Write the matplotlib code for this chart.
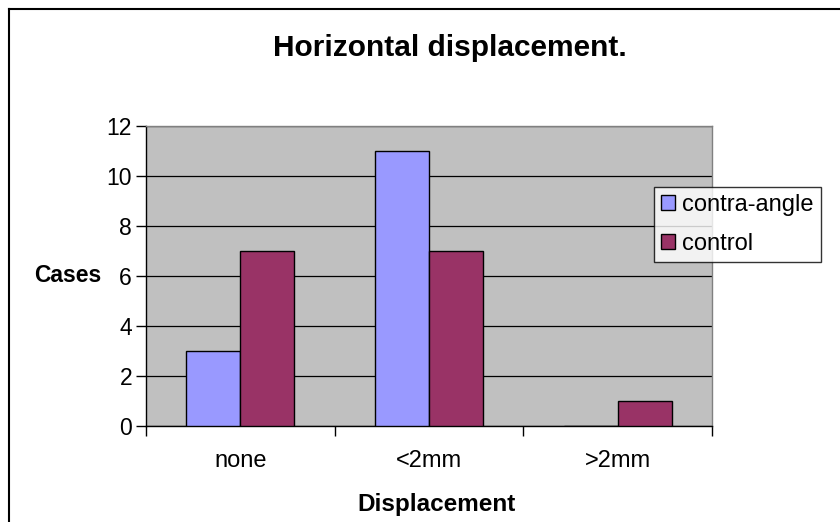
import matplotlib
matplotlib.use("Agg")
import matplotlib.pyplot as plt
import numpy as np
from matplotlib.lines import Line2D
from matplotlib.ticker import FixedLocator, NullFormatter

categories = ["none", "<2mm", ">2mm"]
contra_angle = [3, 11, 0]
control = [7, 7, 1]
series_names = ["contra-angle", "control"]
y_ticks = [0, 2, 4, 6, 8, 10, 12]

plt.rcParams["font.family"] = ["Liberation Sans", "DejaVu Sans"]

fig = plt.figure(figsize=(8.4, 5.22), dpi=100)
ax = fig.add_axes([146 / 840, 1 - 426 / 522, (712 - 146) / 840, 300 / 522])

ax.set_facecolor("#c0c0c0")
for side in ["top", "right"]:
    ax.spines[side].set_color("#808080")
for side in ["left", "bottom"]:
    ax.spines[side].set_color("black")
for spine in ax.spines.values():
    spine.set_linewidth(1.0)

x = np.arange(len(categories))
width = 1 / 3.5
ax.bar(x - width / 2, contra_angle, width, color="#9999ff", edgecolor="black",
       linewidth=1.0, label=series_names[0], zorder=3)
ax.bar(x + width / 2, control, width, color="#993366", edgecolor="black",
       linewidth=1.0, label=series_names[1], zorder=3)

ax.set_xlim(-0.5, len(categories) - 0.5)
ax.set_ylim(0, 12)
ax.set_yticks(y_ticks)
ax.yaxis.grid(True, color="black", linewidth=0.9, zorder=1)
ax.set_axisbelow(True)
ax.tick_params(axis="y", direction="out", length=7, width=1, labelsize=16.5, pad=3)

# categories centred, tick marks on the boundaries between them
ax.set_xticks(x)
ax.set_xticklabels(categories)
ax.tick_params(axis="x", which="major", length=0, labelsize=17, pad=17)
ax.xaxis.set_minor_locator(FixedLocator(np.arange(len(categories) + 1) - 0.5))
ax.xaxis.set_minor_formatter(NullFormatter())
ax.tick_params(axis="x", which="minor", direction="out", length=7, width=1)

fig.text(68 / 840, 1 - 276 / 522, "Cases", ha="center", va="center",
         fontsize=16.5, fontweight="bold")
fig.text(436 / 840, 1 - 504 / 522, "Displacement", ha="center", va="center",
         fontsize=17.5, fontweight="bold")
fig.text(450 / 840, 1 - 48 / 522, "Horizontal displacement.", ha="center", va="center",
         fontsize=21.5, fontweight="bold")

leg = fig.legend(loc="upper left", bbox_to_anchor=(654 / 840, 1 - 187 / 522),
                 fontsize=17, frameon=True, fancybox=False, borderaxespad=0,
                 handlelength=0.6, handleheight=0.6, handletextpad=0.3,
                 borderpad=0.3, labelspacing=0.7)
leg.get_frame().set_edgecolor("black")
leg.get_frame().set_linewidth(1.0)

# chart area border (only top and left edges are inside the image)
fig.add_artist(Line2D([9 / 840, 1], [1 - 9 / 522, 1 - 9 / 522], color="black", linewidth=1.5))
fig.add_artist(Line2D([9 / 840, 9 / 840], [0, 1 - 9 / 522], color="black", linewidth=1.5))

fig.savefig("out.png", dpi=100)
